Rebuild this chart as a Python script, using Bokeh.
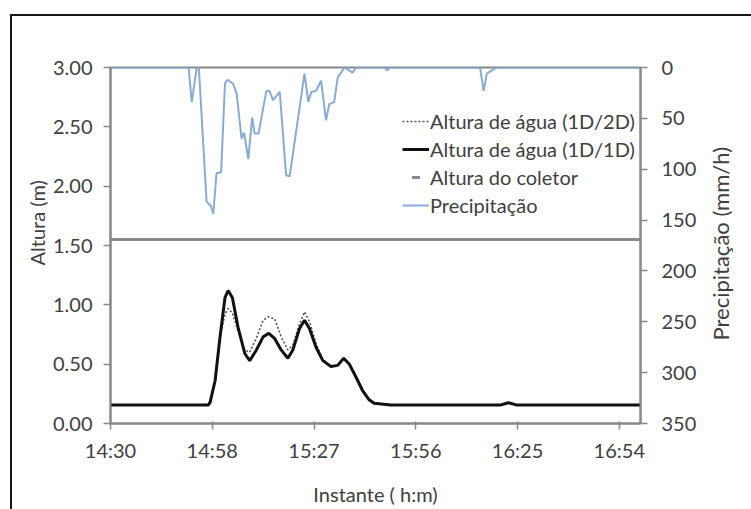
from math import pi
from bokeh.plotting import figure
from bokeh.layouts import row
from bokeh.models import (Range1d, LinearAxis, FixedTicker, Legend, LegendItem,
                          ColumnDataSource, NumeralTickFormatter, InlineStyleSheet)
from bokeh.core.properties import value
from bokeh.embed import file_html
from bokeh.resources import INLINE

# ---------------- data (minutes after 14:30) ----------------
tick_minutes = [0, 28.8, 57.6, 86.4, 115.2, 144]
tick_labels = ["14:30", "14:58", "15:27", "15:56", "16:25", "16:54"]

t_agua = [0, 27.7, 28.2, 29.6, 31.0, 32.4, 33.3, 34.5, 36.1, 38.0, 39.4, 41.3,
          43.2, 44.8, 46.5, 48.3, 50.2, 51.6, 53.5, 54.9, 56.3, 58.2, 60.1,
          62.4, 64.3, 66.0, 67.6, 69.5, 71.3, 73.2, 74.6, 79.3, 110.3, 112.6,
          115.1, 150]
h_1d1d = [0.155, 0.155, 0.18, 0.36, 0.73, 1.06, 1.12, 1.06, 0.81, 0.59, 0.53,
          0.62, 0.73, 0.76, 0.715, 0.62, 0.55, 0.62, 0.80, 0.87, 0.80, 0.64,
          0.53, 0.48, 0.49, 0.55, 0.50, 0.39, 0.28, 0.20, 0.17, 0.155, 0.155,
          0.175, 0.155, 0.155]
h_1d2d = [0.155, 0.155, 0.18, 0.36, 0.72, 0.92, 0.97, 0.93, 0.78, 0.62, 0.60,
          0.72, 0.87, 0.90, 0.88, 0.73, 0.62, 0.66, 0.84, 0.94, 0.86, 0.67,
          0.54, 0.48, 0.49, 0.55, 0.50, 0.39, 0.28, 0.20, 0.17, 0.155, 0.155,
          0.175, 0.155, 0.155]

t_prec = [0, 22.1, 23.0, 24.4, 25.0, 27.2, 28.4, 29.1, 30.0, 31.3, 32.4, 33.1,
          34.7, 35.7, 37.1, 37.8, 39.0, 40.1, 40.8, 41.9, 44.1, 45.0, 46.0,
          47.9, 48.8, 49.7, 50.7, 54.9, 56.0, 56.8, 58.2, 59.6, 61.0, 61.9,
          63.3, 64.3, 66.2, 68.5, 69.5, 77.6, 78.4, 79.0, 104.6, 105.6, 106.5,
          107.4, 109.3, 150]
prec = [0, 0, 34, 0, 0, 132, 136, 144, 104, 103, 16, 12, 16, 26, 70, 64, 90,
        49, 65, 65, 23, 23, 32, 24, 65, 106, 107, 6, 34, 24, 23, 13, 52, 36,
        34, 10, 0, 5, 0, 0, 3, 0, 0, 23, 6, 4, 0, 0]

altura_coletor = 1.55
t_coletor = [0, 150]

left_ticks = [0, 0.5, 1.0, 1.5, 2.0, 2.5, 3.0]
right_ticks = [0, 50, 100, 150, 200, 250, 300, 350]

x_title = "Instante ( h:m)"
y_title = "Altura (m)"
y2_title = "Precipitação (mm/h)"
series_names = ["Altura de água (1D/2D)", "Altura de água (1D/1D)",
                "Altura do coletor", "Precipitação"]

# ---------------- style ----------------
FONT = "Lato"
TXT = "#404040"
AX = "#878787"
FS = "20px"
H = 509


def frame_css(left_border, left_px):
    border_left = "border-left: 2px solid #151515;" if left_border else ""
    return InlineStyleSheet(css=f""":host {{ position: relative; }}
:host::after {{ content: ''; position: absolute; left: {left_px}px; top: 14px;
  right: 0; bottom: 0; border-top: 2px solid #151515; {border_left}
  pointer-events: none; z-index: 100; }}""")


def title_strip(width, cx, cy, text, size, css):
    q = figure(width=width, height=H, x_range=Range1d(-cx, width - cx),
               y_range=Range1d(-(H - cy), cy), x_axis_location=None,
               y_axis_location=None, output_backend="svg", toolbar_location=None,
               min_border=0, outline_line_color=None,
               background_fill_color="white", border_fill_color="white")
    q.xgrid.visible = False
    q.ygrid.visible = False
    q.text(x=[0], y=[0], text=[text], angle=pi / 2, text_align="center",
           text_baseline="middle", text_font=value(FONT), text_font_size=size,
           text_color=TXT)
    q.stylesheets = [css]
    return q


# main chart ---------------------------------------------------------
p = figure(width=651, height=H, x_range=Range1d(0, 150), y_range=Range1d(0, 3),
           output_backend="svg", toolbar_location=None,
           min_border_left=59, min_border_right=60, min_border_top=67,
           min_border_bottom=86, background_fill_color="white",
           border_fill_color="white")
p.extra_y_ranges = {"prec": Range1d(350, 0)}
p.xgrid.visible = False
p.ygrid.visible = False
p.outline_line_color = AX
p.outline_line_width = 2
p.stylesheets = [frame_css(False, 0)]


def style_axis(ax):
    ax.axis_line_color = AX
    ax.axis_line_width = 2
    ax.major_tick_line_color = AX
    ax.major_tick_line_width = 1.5
    ax.minor_tick_line_color = None
    ax.major_label_text_font = FONT
    ax.major_label_text_font_size = FS
    ax.major_label_text_color = TXT
    ax.axis_label_text_font = FONT
    ax.axis_label_text_font_size = FS
    ax.axis_label_text_color = TXT
    ax.axis_label_text_font_style = "normal"


xa = p.xaxis[0]
style_axis(xa)
xa.ticker = FixedTicker(ticks=tick_minutes)
xa.major_label_overrides = {m: l for m, l in zip(tick_minutes, tick_labels)}
xa.major_tick_out = 6
xa.major_tick_in = 2
xa.major_label_standoff = 8
xa.axis_label = x_title
xa.axis_label_standoff = 17

ya = p.yaxis[0]
style_axis(ya)
ya.ticker = FixedTicker(ticks=left_ticks)
ya.formatter = NumeralTickFormatter(format="0.00")
ya.major_tick_out = 7
ya.major_tick_in = 0
ya.major_label_standoff = 11

ra = LinearAxis(y_range_name="prec", ticker=FixedTicker(ticks=right_ticks))
style_axis(ra)
ra.major_tick_out = 7
ra.major_tick_in = 0
ra.major_label_standoff = 14
p.add_layout(ra, "right")

src_agua = ColumnDataSource(dict(t=t_agua, a=h_1d1d, b=h_1d2d))
src_prec = ColumnDataSource(dict(t=t_prec, p=prec))
src_col = ColumnDataSource(dict(t=t_coletor, h=[altura_coletor] * len(t_coletor)))

r_col = p.line("t", "h", source=src_col, line_color="#8a8a8a", line_width=3)
r_col_mk = p.scatter("t", "h", source=src_col, marker="dash", size=14,
                     line_color="#8a8a8a", line_width=3)
r_prec = p.line("t", "p", source=src_prec, y_range_name="prec",
                line_color="#86ACD6", line_width=2)
r_2d = p.line("t", "b", source=src_agua, line_color="#555555", line_width=1.6,
              line_dash="2 2")
r_1d = p.line("t", "a", source=src_agua, line_color="#111111", line_width=3)

legend = Legend(items=[
    LegendItem(label=series_names[0], renderers=[r_2d]),
    LegendItem(label=series_names[1], renderers=[r_1d]),
    LegendItem(label=series_names[2], renderers=[r_col_mk]),
    LegendItem(label=series_names[3], renderers=[r_prec]),
], location=(292, 206))
legend.background_fill_alpha = 0
legend.border_line_color = None
legend.padding = 0
legend.margin = 0
legend.spacing = 4
legend.glyph_width = 27
legend.glyph_height = 20
legend.label_height = 20
legend.label_standoff = 1
legend.label_text_font = FONT
legend.label_text_font_size = FS
legend.label_text_color = TXT
p.add_layout(legend)

# side strips holding the rotated axis titles
left_strip = title_strip(49, 36, 222, y_title, "20px", frame_css(True, 10))
right_strip = title_strip(51, 20, 252, y2_title, "22px", frame_css(False, 0))

layout = row(left_strip, p, right_strip, spacing=0)

open("out.html", "w").write(file_html(layout, INLINE))
